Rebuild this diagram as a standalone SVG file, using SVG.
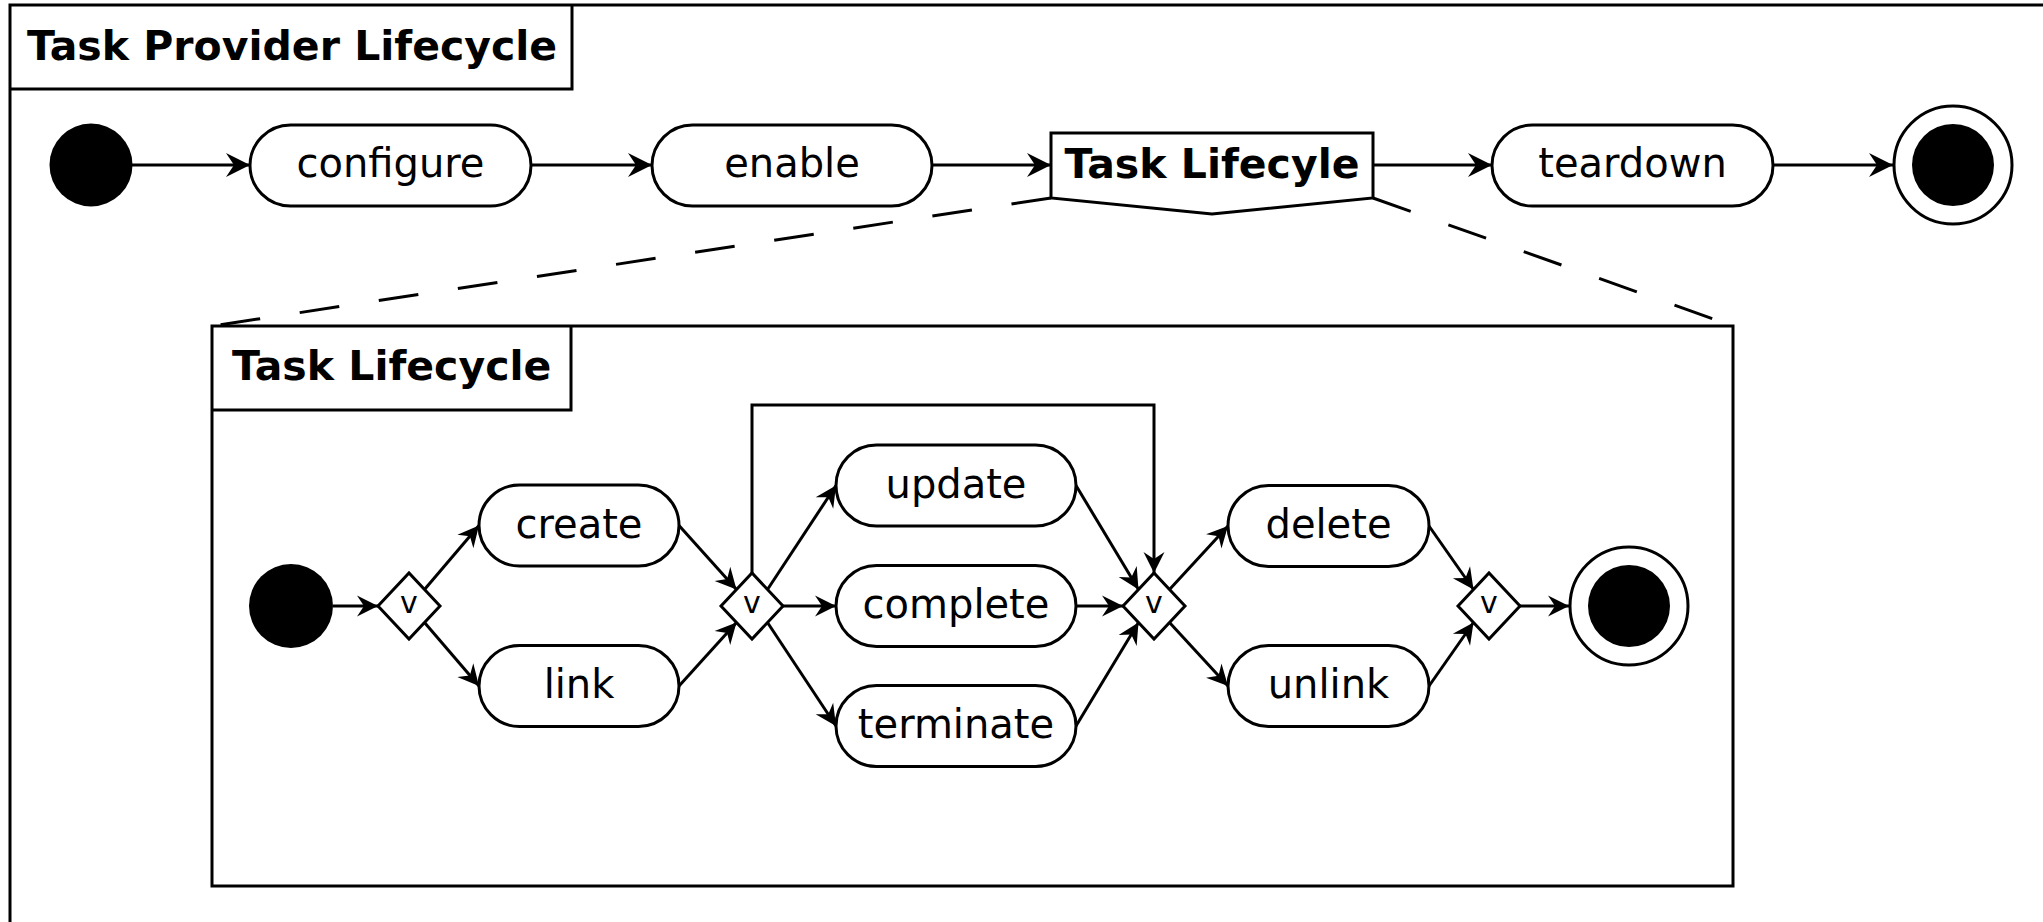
<svg xmlns="http://www.w3.org/2000/svg" width="2043" height="922" viewBox="0 0 2043 922">
<defs>
<marker id="ah" markerUnits="userSpaceOnUse" markerWidth="30" markerHeight="30" refX="0" refY="0" orient="auto" overflow="visible">
<path d="M0,0 L-24,-12 L-16,0 L-24,12 Z" fill="#000"/>
</marker>
<marker id="ahs" markerUnits="userSpaceOnUse" markerWidth="30" markerHeight="30" refX="0" refY="0" orient="auto" overflow="visible">
<path d="M0,0 L-21,-10.5 L-14,0 L-21,10.5 Z" fill="#000"/>
</marker>
<style>
.frame{fill:none;stroke:#000;stroke-width:3}
.node{fill:#fff;stroke:#000;stroke-width:3}
.lbl{font-family:"DejaVu Sans",sans-serif;font-size:40px;fill:#000;text-anchor:middle}
.ttl{font-family:"DejaVu Sans",sans-serif;font-size:41px;font-weight:bold;fill:#000}
.dv{font-family:"DejaVu Sans",sans-serif;font-size:30px;fill:#000;text-anchor:middle}
.e{fill:none;stroke:#000;stroke-width:3;marker-end:url(#ah)}
.es{fill:none;stroke:#000;stroke-width:3;marker-end:url(#ahs)}
.dash{fill:none;stroke:#000;stroke-width:3;stroke-dasharray:40 40}
</style>
</defs>
<rect width="2043" height="922" fill="#fff"/>
<g id="outer-frame">
<path class="frame" d="M10,922 L10,5 L2043,5"/>
<path class="frame" d="M10,89 L572,89 L572,5"/>
<text class="ttl" x="27" y="60">Task Provider Lifecycle</text>
</g>
<g id="inner-frame">
<rect class="frame" x="212" y="326" width="1521" height="560"/>
<path class="frame" d="M212,410 L571,410 L571,326"/>
<text class="ttl" x="232" y="380">Task Lifecycle</text>
</g>
<g id="connectors">
<path class="e" d="M132,165 L250,165"/>
<path class="e" d="M531,165 L652,165"/>
<path class="e" d="M932,165 L1051,165"/>
<path class="e" d="M1373,165 L1492,165"/>
<path class="e" d="M1773,165 L1893,165"/>
<path class="dash" d="M1051,198 L212,326"/>
<path class="dash" d="M1373,198 L1733,326"/>
<path class="es" d="M333,606 L378,606"/>
<path class="es" d="M424.5,589.5 L479,525.5"/>
<path class="es" d="M424.5,622.5 L479,686"/>
<path class="es" d="M679,525.5 L736.5,589.5"/>
<path class="es" d="M679,686 L736.5,622.5"/>
<path class="es" d="M767.5,589.5 L836,485.5"/>
<path class="es" d="M783,606 L836,606"/>
<path class="es" d="M767.5,622.5 L836,726"/>
<path class="es" d="M752,573 L752,405 L1154,405 L1154,573"/>
<path class="es" d="M1076,485.5 L1138.5,589.5"/>
<path class="es" d="M1076,606 L1123,606"/>
<path class="es" d="M1076,726 L1138.5,622.5"/>
<path class="es" d="M1169.5,589.5 L1228,526"/>
<path class="es" d="M1169.5,622.5 L1228,686"/>
<path class="es" d="M1429,526 L1473.5,589.5"/>
<path class="es" d="M1429,686 L1473.5,622.5"/>
<path class="es" d="M1520,606 L1569,606"/>
</g>
<g id="start"><circle cx="91" cy="165" r="41.5" fill="#000"/></g>
<g id="configure"><rect class="node" x="250" y="125" width="281" height="81" rx="40.5"/><text class="lbl" x="390.5" y="177">configure</text></g>
<g id="enable"><rect class="node" x="652" y="125" width="280" height="81" rx="40.5"/><text class="lbl" x="792" y="177">enable</text></g>
<g id="task-lifecycle-ref"><polygon class="node" points="1051,133 1373,133 1373,198 1212,214 1051,198"/><text class="ttl" x="1212" y="178" text-anchor="middle">Task Lifecyle</text></g>
<g id="teardown"><rect class="node" x="1492" y="125" width="281" height="81" rx="40.5"/><text class="lbl" x="1632.5" y="177">teardown</text></g>
<g id="end"><circle class="node" cx="1953" cy="165" r="59"/><circle cx="1953" cy="165" r="41" fill="#000"/></g>
<g id="inner-start"><circle cx="291" cy="606" r="42" fill="#000"/></g>
<g id="d1"><polygon class="node" points="378,606 409,573 440,606 409,639"/><text class="dv" x="409" y="613">v</text></g>
<g id="create"><rect class="node" x="479" y="485" width="200" height="81" rx="40.5"/><text class="lbl" x="579" y="538">create</text></g>
<g id="link"><rect class="node" x="479" y="645.5" width="200" height="81" rx="40.5"/><text class="lbl" x="579" y="698">link</text></g>
<g id="d2"><polygon class="node" points="721,606 752,573 783,606 752,639"/><text class="dv" x="752" y="613">v</text></g>
<g id="update"><rect class="node" x="836" y="445" width="240" height="81" rx="40.5"/><text class="lbl" x="956" y="498">update</text></g>
<g id="complete"><rect class="node" x="836" y="565.5" width="240" height="81" rx="40.5"/><text class="lbl" x="956" y="618">complete</text></g>
<g id="terminate"><rect class="node" x="836" y="685.5" width="240" height="81" rx="40.5"/><text class="lbl" x="956" y="738">terminate</text></g>
<g id="d3"><polygon class="node" points="1123,606 1154,573 1185,606 1154,639"/><text class="dv" x="1154" y="613">v</text></g>
<g id="delete"><rect class="node" x="1228" y="485.5" width="201" height="81" rx="40.5"/><text class="lbl" x="1328.5" y="538">delete</text></g>
<g id="unlink"><rect class="node" x="1228" y="645.5" width="201" height="81" rx="40.5"/><text class="lbl" x="1328.5" y="698">unlink</text></g>
<g id="d4"><polygon class="node" points="1458,606 1489,573 1520,606 1489,639"/><text class="dv" x="1489" y="613">v</text></g>
<g id="inner-end"><circle class="node" cx="1629" cy="606" r="59"/><circle cx="1629" cy="606" r="41" fill="#000"/></g>
</svg>
